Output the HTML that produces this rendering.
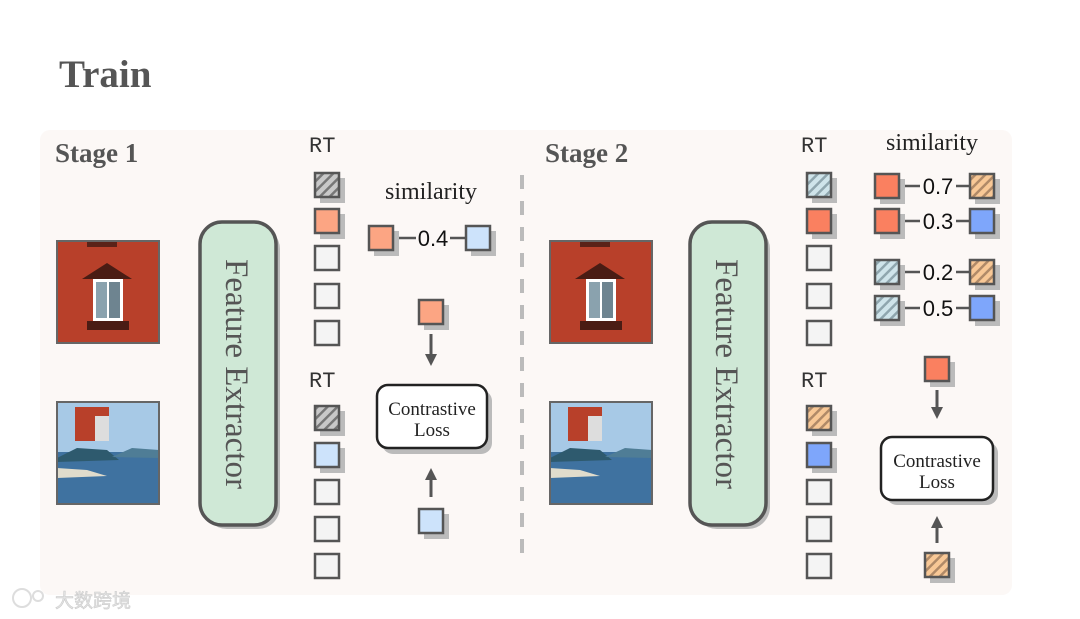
<!DOCTYPE html>
<html><head><meta charset="utf-8"><style>
html,body{margin:0;padding:0;background:#fff;}
svg{display:block;}
.serif{font-family:"Liberation Serif",serif;}
.sans{font-family:"Liberation Sans",sans-serif;}
</style></head><body>
<svg width="1080" height="619" viewBox="0 0 1080 619" xmlns="http://www.w3.org/2000/svg">
<defs>
<pattern id="hb" width="7" height="7" patternUnits="userSpaceOnUse" patternTransform="rotate(45)">
<rect width="7" height="7" fill="#cfe4ea"/><rect width="2.5" height="7" fill="#8fa6ae"/></pattern>
<pattern id="ho" width="7" height="7" patternUnits="userSpaceOnUse" patternTransform="rotate(45)">
<rect width="7" height="7" fill="#f8c896"/><rect width="2.5" height="7" fill="#b08a68"/></pattern>
<pattern id="hg" width="7" height="7" patternUnits="userSpaceOnUse" patternTransform="rotate(45)">
<rect width="7" height="7" fill="#c8c8c8"/><rect width="2.5" height="7" fill="#777"/></pattern>
<g id="wall">
<rect width="102" height="102" fill="#b8402a"/>
<rect x="30" y="0" width="30" height="6" fill="#5a2218"/>
<polygon points="25,38 50,22 75,38" fill="#4a1c14"/>
<rect x="36" y="38" width="30" height="42" fill="#fff"/>
<rect x="39" y="41" width="11" height="36" fill="#8aa2ae"/>
<rect x="52" y="41" width="11" height="36" fill="#6e8490"/>
<rect x="30" y="80" width="42" height="9" fill="#4a1c14"/>
</g>
<g id="sea">
<rect width="102" height="102" fill="#a7c9e6"/>
<rect y="50" width="102" height="52" fill="#3f72a0"/>
<polygon points="0,56 20,46 50,48 62,58 0,60" fill="#2e5a6e"/>
<polygon points="55,55 75,46 102,48 102,56" fill="#4f7d96"/>
<polygon points="0,66 30,68 50,74 0,76" fill="#e0dccc"/>
<rect x="18" y="5" width="34" height="34" fill="#b8402a"/>
<rect x="38" y="14" width="14" height="25" fill="#ddd"/>
</g>
</defs>
<rect x="40" y="130" width="972" height="465" rx="10" fill="#fcf8f6"/>
<text x="59" y="87" class="serif" font-size="39" font-weight="bold" fill="#555">Train</text>
<text x="55" y="162" class="serif" font-size="27" font-weight="bold" fill="#555">Stage 1</text>
<text x="545" y="162" class="serif" font-size="27" font-weight="bold" fill="#555">Stage 2</text>
<line x1="522" y1="175" x2="522" y2="558" stroke="#bbb" stroke-width="4" stroke-dasharray="14,12"/>

<g transform="translate(57,241)"><use href="#wall"/><rect width="102" height="102" fill="none" stroke="#666" stroke-width="2"/></g>
<g transform="translate(57,402)"><use href="#sea"/><rect width="102" height="102" fill="none" stroke="#666" stroke-width="2"/></g>
<g transform="translate(550,241)"><use href="#wall"/><rect width="102" height="102" fill="none" stroke="#666" stroke-width="2"/></g>
<g transform="translate(550,402)"><use href="#sea"/><rect width="102" height="102" fill="none" stroke="#666" stroke-width="2"/></g>

<rect x="205" y="227" width="75" height="302" rx="22" fill="#bbb"/>
<rect x="200" y="222" width="76" height="303" rx="22" fill="#cfe8d6" stroke="#555" stroke-width="3.5"/>
<text class="serif" font-size="33" fill="#555" text-anchor="middle" transform="translate(226,374) rotate(90)">Feature Extractor</text>
<rect x="695" y="227" width="75" height="302" rx="22" fill="#bbb"/>
<rect x="690" y="222" width="76" height="303" rx="22" fill="#cfe8d6" stroke="#555" stroke-width="3.5"/>
<text class="serif" font-size="33" fill="#555" text-anchor="middle" transform="translate(716,374) rotate(90)">Feature Extractor</text>

<g font-family="'Liberation Mono',monospace" font-size="22" fill="#333">
<text x="309" y="152">RT</text><text x="309" y="387">RT</text>
<text x="801" y="152">RT</text><text x="801" y="387">RT</text>
</g>

<g stroke="#555" stroke-width="2.5">
<rect x="320" y="178" width="25" height="25" fill="#bbb" stroke="none"/>
<rect x="315" y="173" width="24" height="24" fill="url(#hg)"/>
<rect x="320" y="214" width="25" height="25" fill="#bbb" stroke="none"/>
<rect x="315" y="209" width="24" height="24" fill="#fca583"/>
<rect x="315" y="246" width="24" height="24" fill="#f4f4f4"/>
<rect x="315" y="284" width="24" height="24" fill="#f4f4f4"/>
<rect x="315" y="321" width="24" height="24" fill="#f4f4f4"/>
<rect x="320" y="411" width="25" height="25" fill="#bbb" stroke="none"/>
<rect x="315" y="406" width="24" height="24" fill="url(#hg)"/>
<rect x="320" y="448" width="25" height="25" fill="#bbb" stroke="none"/>
<rect x="315" y="443" width="24" height="24" fill="#cde3fb"/>
<rect x="315" y="480" width="24" height="24" fill="#f4f4f4"/>
<rect x="315" y="517" width="24" height="24" fill="#f4f4f4"/>
<rect x="315" y="554" width="24" height="24" fill="#f4f4f4"/>
<rect x="812" y="178" width="25" height="25" fill="#bbb" stroke="none"/>
<rect x="807" y="173" width="24" height="24" fill="url(#hb)"/>
<rect x="812" y="214" width="25" height="25" fill="#bbb" stroke="none"/>
<rect x="807" y="209" width="24" height="24" fill="#fa8060"/>
<rect x="807" y="246" width="24" height="24" fill="#f4f4f4"/>
<rect x="807" y="284" width="24" height="24" fill="#f4f4f4"/>
<rect x="807" y="321" width="24" height="24" fill="#f4f4f4"/>
<rect x="812" y="411" width="25" height="25" fill="#bbb" stroke="none"/>
<rect x="807" y="406" width="24" height="24" fill="url(#ho)"/>
<rect x="812" y="448" width="25" height="25" fill="#bbb" stroke="none"/>
<rect x="807" y="443" width="24" height="24" fill="#7ea6fb"/>
<rect x="807" y="480" width="24" height="24" fill="#f4f4f4"/>
<rect x="807" y="517" width="24" height="24" fill="#f4f4f4"/>
<rect x="807" y="554" width="24" height="24" fill="#f4f4f4"/>
</g>

<text x="431" y="199" class="serif" font-size="24" fill="#222" text-anchor="middle">similarity</text>
<g stroke="#555" stroke-width="2.5">
<line x1="393" y1="238" x2="416" y2="238"/><line x1="450" y1="238" x2="466" y2="238"/>
<rect x="374" y="231" width="25" height="25" fill="#bbb" stroke="none"/>
<rect x="369" y="226" width="24" height="24" fill="#fca583"/>
<rect x="471" y="231" width="25" height="25" fill="#bbb" stroke="none"/>
<rect x="466" y="226" width="24" height="24" fill="#cde3fb"/>
<rect x="424" y="305" width="25" height="25" fill="#bbb" stroke="none"/>
<rect x="419" y="300" width="24" height="24" fill="#fca583"/>
<rect x="424" y="514" width="25" height="25" fill="#bbb" stroke="none"/>
<rect x="419" y="509" width="24" height="24" fill="#cde3fb"/>
</g>
<text x="433" y="246" class="sans" font-size="22" fill="#111" text-anchor="middle">0.4</text>
<g fill="#555" stroke="#555" stroke-width="3">
<line x1="431" y1="334" x2="431" y2="356"/><polygon points="425,354 437,354 431,366" stroke="none"/>
<line x1="431" y1="497" x2="431" y2="478"/><polygon points="425,480 437,480 431,468" stroke="none"/>
</g>
<rect x="382" y="390" width="110" height="64" rx="11" fill="#bbb"/>
<rect x="377" y="385" width="110" height="63" rx="11" fill="#fff" stroke="#222" stroke-width="2.5"/>
<text x="432" y="415" class="serif" font-size="19" fill="#222" text-anchor="middle">Contrastive</text>
<text x="432" y="436" class="serif" font-size="19" fill="#222" text-anchor="middle">Loss</text>

<text x="932" y="150" class="serif" font-size="24" fill="#222" text-anchor="middle">similarity</text>
<g stroke="#555" stroke-width="2.5">
<line x1="899" y1="186" x2="920" y2="186"/><line x1="956" y1="186" x2="970" y2="186"/>
<line x1="899" y1="221" x2="920" y2="221"/><line x1="956" y1="221" x2="970" y2="221"/>
<line x1="899" y1="272" x2="920" y2="272"/><line x1="956" y1="272" x2="970" y2="272"/>
<line x1="899" y1="308" x2="920" y2="308"/><line x1="956" y1="308" x2="970" y2="308"/>
<rect x="880" y="179" width="25" height="25" fill="#bbb" stroke="none"/><rect x="875" y="174" width="24" height="24" fill="#fa8060"/>
<rect x="975" y="179" width="25" height="25" fill="#bbb" stroke="none"/><rect x="970" y="174" width="24" height="24" fill="url(#ho)"/>
<rect x="880" y="214" width="25" height="25" fill="#bbb" stroke="none"/><rect x="875" y="209" width="24" height="24" fill="#fa8060"/>
<rect x="975" y="214" width="25" height="25" fill="#bbb" stroke="none"/><rect x="970" y="209" width="24" height="24" fill="#7ea6fb"/>
<rect x="880" y="265" width="25" height="25" fill="#bbb" stroke="none"/><rect x="875" y="260" width="24" height="24" fill="url(#hb)"/>
<rect x="975" y="265" width="25" height="25" fill="#bbb" stroke="none"/><rect x="970" y="260" width="24" height="24" fill="url(#ho)"/>
<rect x="880" y="301" width="25" height="25" fill="#bbb" stroke="none"/><rect x="875" y="296" width="24" height="24" fill="url(#hb)"/>
<rect x="975" y="301" width="25" height="25" fill="#bbb" stroke="none"/><rect x="970" y="296" width="24" height="24" fill="#7ea6fb"/>
<rect x="930" y="362" width="25" height="25" fill="#bbb" stroke="none"/><rect x="925" y="357" width="24" height="24" fill="#fa8060"/>
<rect x="930" y="558" width="25" height="25" fill="#bbb" stroke="none"/><rect x="925" y="553" width="24" height="24" fill="url(#ho)"/>
</g>
<g class="sans" font-size="22" fill="#111" text-anchor="middle">
<text x="938" y="194">0.7</text><text x="938" y="229">0.3</text>
<text x="938" y="280">0.2</text><text x="938" y="316">0.5</text>
</g>
<g fill="#555" stroke="#555" stroke-width="3">
<line x1="937" y1="390" x2="937" y2="409"/><polygon points="931,407 943,407 937,419" stroke="none"/>
<line x1="937" y1="543" x2="937" y2="526"/><polygon points="931,528 943,528 937,516" stroke="none"/>
</g>
<rect x="886" y="442" width="112" height="63" rx="11" fill="#bbb"/>
<rect x="881" y="437" width="112" height="63" rx="11" fill="#fff" stroke="#222" stroke-width="2.5"/>
<text x="937" y="467" class="serif" font-size="19" fill="#222" text-anchor="middle">Contrastive</text>
<text x="937" y="488" class="serif" font-size="19" fill="#222" text-anchor="middle">Loss</text>

<text x="55" y="607" font-family="'Liberation Sans','Noto Sans CJK SC',sans-serif" font-size="19" fill="#e4e4e4" stroke="#ccc" stroke-width="0.6">大数跨境</text>
<circle cx="22" cy="598" r="9" fill="none" stroke="#ddd" stroke-width="2"/>
<circle cx="38" cy="596" r="5" fill="none" stroke="#ddd" stroke-width="2"/>
</svg>
</body></html>
